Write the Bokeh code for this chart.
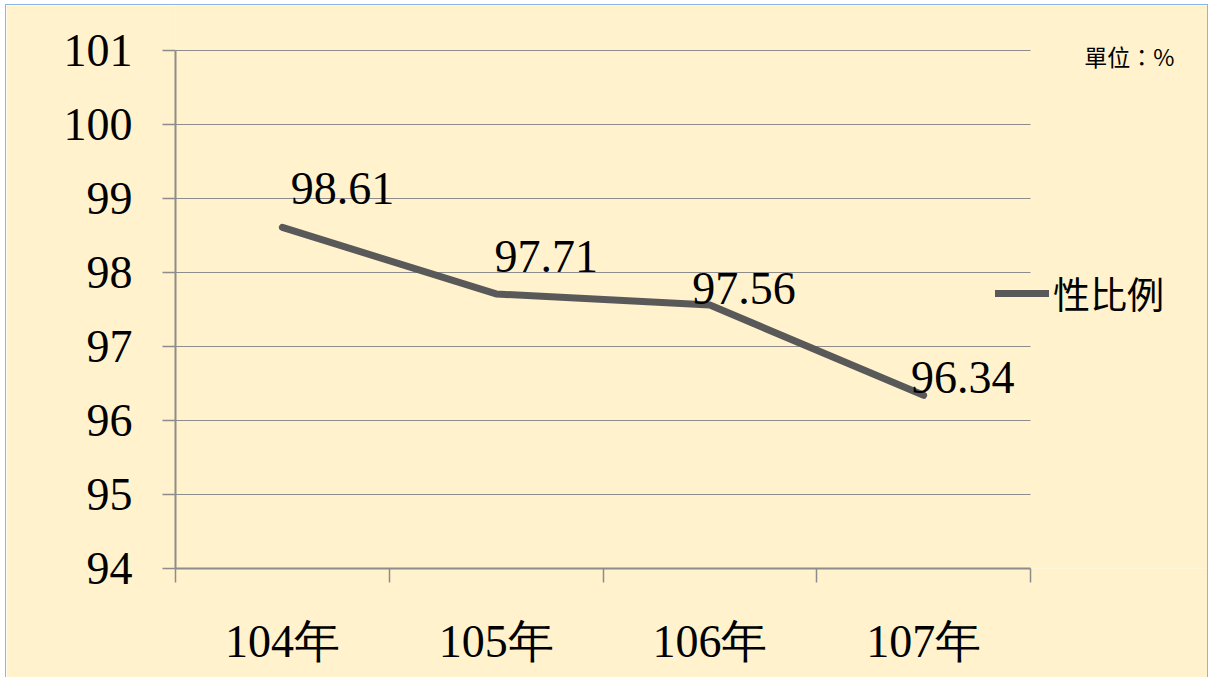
from bokeh.plotting import figure
from bokeh.models import Range1d, FixedTicker, Legend, LegendItem, Label, ColumnDataSource
from bokeh.core.properties import value
from bokeh.embed import file_html
from bokeh.resources import INLINE

# ---- data ----
categories = ["104年", "105年", "106年", "107年"]
sex_ratio = [98.61, 97.71, 97.56, 96.34]
y_ticks = [94, 95, 96, 97, 98, 99, 100, 101]
series_name = "性比例"
unit_text = "單位：%"

# ---- layout helpers (pixel offsets of the data labels) ----
label_dx = [60, 50, 34, 39]
label_dy = [-39, -37, -17, -18]

x_pos = [i + 0.5 for i in range(len(categories))]
bg = "#FFF2CC"
axis_gray = "#8C8C8C"
serif = "Liberation Serif"

# plot geometry (pixels)
axes_w, axes_h = 855, 518          # width of the category area, height of 94..101
frame_w, frame_h = 1032, 563
n = len(categories)
x_end = n * frame_w / axes_w
y_span = y_ticks[-1] - y_ticks[0]
y_end = y_ticks[0] + y_span * frame_h / axes_h

p = figure(
    frame_width=frame_w, frame_height=frame_h,
    min_border_left=169, min_border_top=0, min_border_right=0, min_border_bottom=110,
    x_range=Range1d(0, x_end), y_range=Range1d(y_ticks[0], y_end),
    output_backend="svg", toolbar_location=None,
    background_fill_color=bg, border_fill_color=bg, outline_line_color=None,
)
p.styles = {"border": "1px solid #8EB4E3"}
p.margin = (4, 0, 0, 5)

# horizontal grid lines over the category area only
p.segment(x0=0, x1=n, y0=y_ticks, y1=y_ticks, line_color=axis_gray, line_width=1.2)

# x axis
xt = FixedTicker(ticks=x_pos, minor_ticks=list(range(n + 1)))
p.xaxis.ticker = xt
p.xaxis.bounds = (0, n)
p.xaxis.major_label_overrides = {x: c for x, c in zip(x_pos, categories)}
p.xaxis.major_tick_out = 0
p.xaxis.major_tick_in = 0
p.xaxis.minor_tick_out = 14
p.xaxis.minor_tick_in = 0
p.xaxis.minor_tick_line_color = axis_gray
p.xaxis.minor_tick_line_width = 1.5
p.xaxis.axis_line_color = axis_gray
p.xaxis.axis_line_width = 2
p.xaxis.major_label_text_font = serif
p.xaxis.major_label_text_font_size = "46px"
p.xaxis.major_label_text_color = "black"
p.xaxis.major_label_standoff = 33

# y axis
yt = FixedTicker(ticks=y_ticks)
p.yaxis.ticker = yt
p.yaxis.bounds = (y_ticks[0], y_ticks[-1])
p.yaxis.major_tick_out = 13
p.yaxis.major_tick_in = 0
p.yaxis.major_tick_line_color = axis_gray
p.yaxis.major_tick_line_width = 1.5
p.yaxis.minor_tick_line_color = None
p.yaxis.axis_line_color = axis_gray
p.yaxis.axis_line_width = 2
p.yaxis.major_label_text_font = serif
p.yaxis.major_label_text_font_size = "46px"
p.yaxis.major_label_text_color = "black"
p.yaxis.major_label_standoff = 30

p.xgrid.visible = False
p.ygrid.visible = False

src = ColumnDataSource(dict(
    x=x_pos, y=sex_ratio,
    txt=[f"{v:.2f}" for v in sex_ratio],
    dx=label_dx, dy=label_dy,
))

r = p.line("x", "y", source=src, line_color="#595959", line_width=7,
           line_cap="round", line_join="round")

p.text("x", "y", text="txt", source=src, x_offset="dx", y_offset="dy",
       text_font=value(serif), text_font_size="46px", text_color="black",
       text_align="center", text_baseline="alphabetic")

legend = Legend(items=[LegendItem(label=series_name, renderers=[r])],
                location=(820, 248), padding=0, margin=0,
                glyph_width=54, glyph_height=40, label_height=40,
                label_standoff=4, spacing=0,
                label_text_font="Noto Sans CJK TC", label_text_font_size="37px",
                label_text_color="black",
                background_fill_alpha=0, border_line_color=None)
p.add_layout(legend, "center")

unit = Label(x=4.252, y=100.93, text=unit_text,
             text_font="Noto Sans CJK TC", text_font_size="23px",
             text_color="black", text_baseline="alphabetic", text_align="left")
p.add_layout(unit)

open("out.html", "w").write(file_html(p, INLINE))
